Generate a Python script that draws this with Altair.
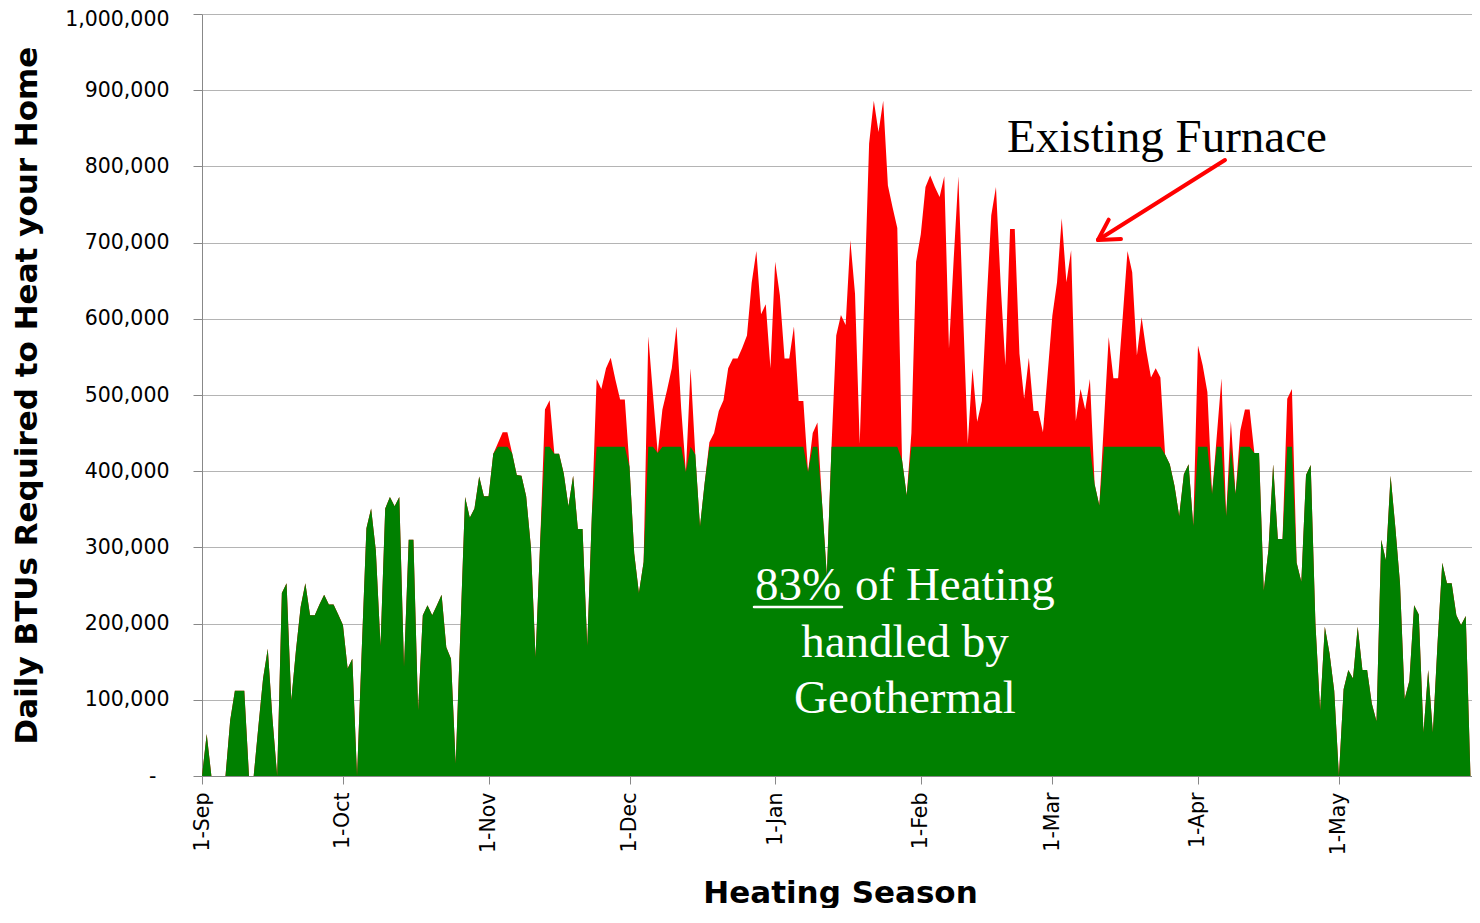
import math
import altair as alt
import pandas as pd

# Daily BTU demand (thousands of BTU), one value per day starting 1-Sep
btu_thousands = [
    0, 55, 0, 0, 0, 0, 73, 112, 112, 112,
    0, 0, 65, 128, 167, 75, 0, 240, 253, 99,
    165, 222, 253, 211, 211, 225, 238, 225, 225, 212,
    198, 141, 154, 0, 165, 325, 351, 296, 171, 351,
    366, 354, 366, 143, 310, 310, 86, 211, 224, 211,
    224, 238, 169, 154, 16, 190, 366, 339, 351, 393,
    367, 367, 423, 437, 451, 451, 424, 395, 394, 367,
    301, 156, 310, 481, 493, 423, 423, 397, 354, 394,
    324, 324, 171, 345, 521, 508, 535, 549, 520, 494,
    494, 406, 292, 240, 281, 577, 500, 424, 481, 507,
    535, 590, 482, 399, 535, 422, 327, 385, 438, 450,
    479, 493, 535, 548, 548, 562, 578, 647, 689, 606,
    619, 535, 675, 631, 548, 548, 590, 492, 492, 399,
    450, 464, 357, 263, 433, 578, 605, 592, 703, 633,
    436, 632, 830, 886, 845, 886, 775, 746, 719, 415,
    368, 450, 675, 711, 773, 788, 773, 760, 787, 561,
    678, 787, 608, 436, 535, 465, 492, 620, 736, 773,
    645, 539, 718, 718, 554, 495, 549, 479, 479, 451,
    528, 604, 648, 732, 648, 690, 466, 508, 481, 521,
    383, 355, 466, 576, 522, 522, 604, 689, 661, 552,
    602, 558, 523, 535, 523, 422, 409, 381, 341, 396,
    409, 328, 565, 539, 504, 370, 446, 522, 341, 466,
    370, 453, 481, 481, 424, 424, 243, 297, 409, 311,
    311, 495, 508, 280, 255, 395, 408, 200, 86, 196,
    161, 112, 0, 114, 139, 128, 196, 139, 139, 95,
    72, 310, 283, 394, 327, 253, 101, 125, 224, 212,
    57, 139, 57, 175, 280, 253, 253, 211, 198, 210,
    0,
]
geothermal_cap_thousands = 432

month_days = [0, 30, 61, 91, 122, 153, 181, 212, 242]
month_labels = ["1-Sep", "1-Oct", "1-Nov", "1-Dec", "1-Jan", "1-Feb", "1-Mar", "1-Apr", "1-May"]
y_ticks = [0, 100000, 200000, 300000, 400000, 500000, 600000, 700000, 800000, 900000, 1000000]

df = pd.DataFrame({
    "day": list(range(len(btu_thousands))),
    "total": [v * 1000 for v in btu_thousands],
    "geo": [min(v, geothermal_cap_thousands) * 1000 for v in btu_thousands],
})

W, H = 1270, 762
PX_PER_DAY = 4.698

x_expr = " : ".join(f"datum.value == {d} ? '{l}'" for d, l in zip(month_days, month_labels)) + " : ''"
y_expr = "datum.value == 0 ? '-' : format(datum.value, ',')"

LABEL_FONT = "DejaVu Sans"
AX = "#888888"

x_scale = alt.Scale(domain=[0, W / PX_PER_DAY], nice=False, zero=False)
y_scale = alt.Scale(domain=[0, 1000000], nice=False)

x_axis = alt.Axis(
    values=month_days, labelExpr=x_expr, labelAngle=270, labelAlign="right",
    labelBaseline="middle", labelFont=LABEL_FONT, labelFontSize=20.5,
    labelColor="black", labelPadding=8, tickSize=8, tickColor=AX,
    domainColor=AX, grid=False, title="Heating Season", titleFont=LABEL_FONT,
    titleFontSize=31, titleFontWeight="bold", titleColor="black",
    titleBaseline="alphabetic", titleY=126, titleX=638, titleAlign="center",
    labelOverlap=False,
)
y_axis = alt.Axis(
    values=y_ticks, labelExpr=y_expr, labelFont=LABEL_FONT, labelFontSize=20.5,
    labelColor="black",
    labelPadding={"condition": {"test": "datum.value === 0", "value": 37}, "value": 24},
    labelOffset={"condition": {"test": "datum.value === 1000000", "value": 5}, "value": 0},
    tickSize=9, tickColor=AX,
    domainColor=AX, gridColor="#b4b4b4", title="Daily BTUs Required to Heat your Home",
    titleFont=LABEL_FONT, titleFontSize=31, titleFontWeight="bold",
    titleColor="black", titleAngle=270, titleX=-175, titleY=381,
    titleAlign="center", titleBaseline="middle", labelOverlap=False,
)

base = alt.Chart(df)
red = base.mark_area(color="#ff0000", interpolate="linear").encode(
    x=alt.X("day:Q", scale=x_scale, axis=x_axis),
    y=alt.Y("total:Q", scale=y_scale, axis=y_axis),
)
green = base.mark_area(color="#008000", interpolate="linear").encode(
    x=alt.X("day:Q", scale=x_scale),
    y=alt.Y("geo:Q", scale=y_scale),
)

one = alt.Data(values=[{"k": 0}])


def text_layer(txt, x, y, color, align="center", size=47):
    return alt.Chart(one).mark_text(
        text=txt, font="Liberation Serif", fontSize=size, color=color,
        align=align, baseline="alphabetic",
    ).encode(x=alt.value(x), y=alt.value(y))


def rule_layer(x1, y1, x2, y2, color, width):
    return alt.Chart(one).mark_rule(color=color, strokeWidth=width, strokeCap="round").encode(
        x=alt.value(x1), y=alt.value(y1), x2=alt.value(x2), y2=alt.value(y2)
    )


# annotation positions in plot coordinates
t_furnace = text_layer("Existing Furnace", 965, 138, "black")
t_83 = text_layer("83%", 553, 586, "white", align="left")
t_of = text_layer("of Heating", 653, 586, "white", align="left")
t_handled = text_layer("handled by", 703, 643, "white")
t_geo = text_layer("Geothermal", 703, 699, "white")
underline = rule_layer(552, 593, 640, 593, "white", 2.5)

# arrow
sx, sy = 1023, 146
tx, ty = 896, 226
dx, dy = sx - tx, sy - ty
L = math.hypot(dx, dy)
bx, by = dx / L, dy / L
arms = []
for ang in (math.radians(30), math.radians(-30)):
    ax_ = bx * math.cos(ang) - by * math.sin(ang)
    ay_ = bx * math.sin(ang) + by * math.cos(ang)
    arms.append(rule_layer(tx, ty, tx + 23 * ax_, ty + 23 * ay_, "#ff0000", 4))
shaft = rule_layer(sx, sy, tx, ty, "#ff0000", 4)

chart = alt.layer(
    red, green, t_furnace, t_83, t_of, t_handled, t_geo, underline, shaft, *arms
).properties(
    width=W, height=H,
    padding={"left": 194, "top": 6, "right": 0, "bottom": 132},
    autosize=alt.AutoSizeParams(type="none"),
).configure_view(stroke="transparent")

chart.save("out.html", embed_options={"renderer": "svg", "actions": False})
